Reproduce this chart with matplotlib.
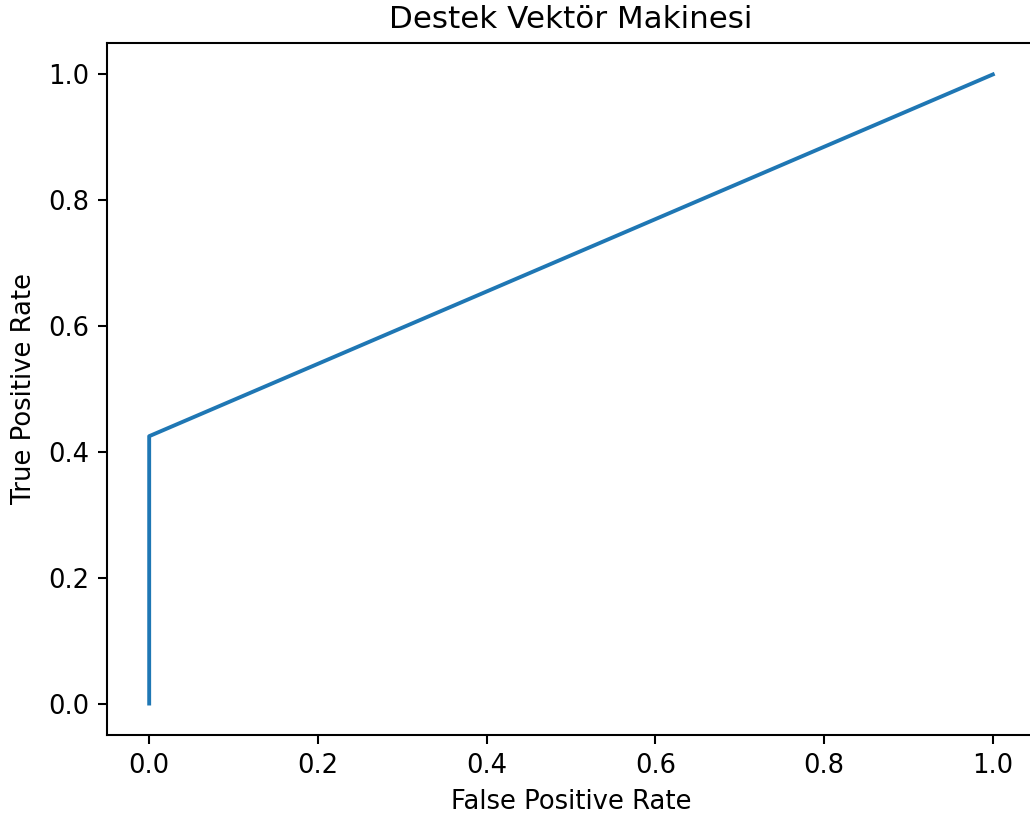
import matplotlib
matplotlib.use("Agg")
import matplotlib.pyplot as plt

fpr = [0.0, 0.0, 1.0]
tpr = [0.0, 0.425, 1.0]
title = "Destek Vektör Makinesi"
xlabel = "False Positive Rate"
ylabel = "True Positive Rate"

W, H = 1030, 818
k = 1.86
fig = plt.figure(figsize=(W / 100, H / 100), dpi=100)
ax = fig.add_axes([107 / W, (H - 735) / H, (1035 - 107) / W, (735 - 43) / H])
ax.plot(fpr, tpr, color="#1f77b4", linewidth=1.5 * k)
ax.set_xlim(-0.05, 1.05)
ax.set_ylim(-0.05, 1.05)
fs = 10 * k
ax.set_title(title, fontsize=12 * k, pad=6 * k)
ax.set_xlabel(xlabel, fontsize=fs, labelpad=4 * k)
ax.set_ylabel(ylabel, fontsize=fs, labelpad=4 * k)
ax.tick_params(labelsize=fs, length=3.5 * k, width=0.8 * k, pad=3.5 * k)
for s in ax.spines.values():
    s.set_linewidth(0.8 * k)
fig.savefig("out.png", dpi=100)
